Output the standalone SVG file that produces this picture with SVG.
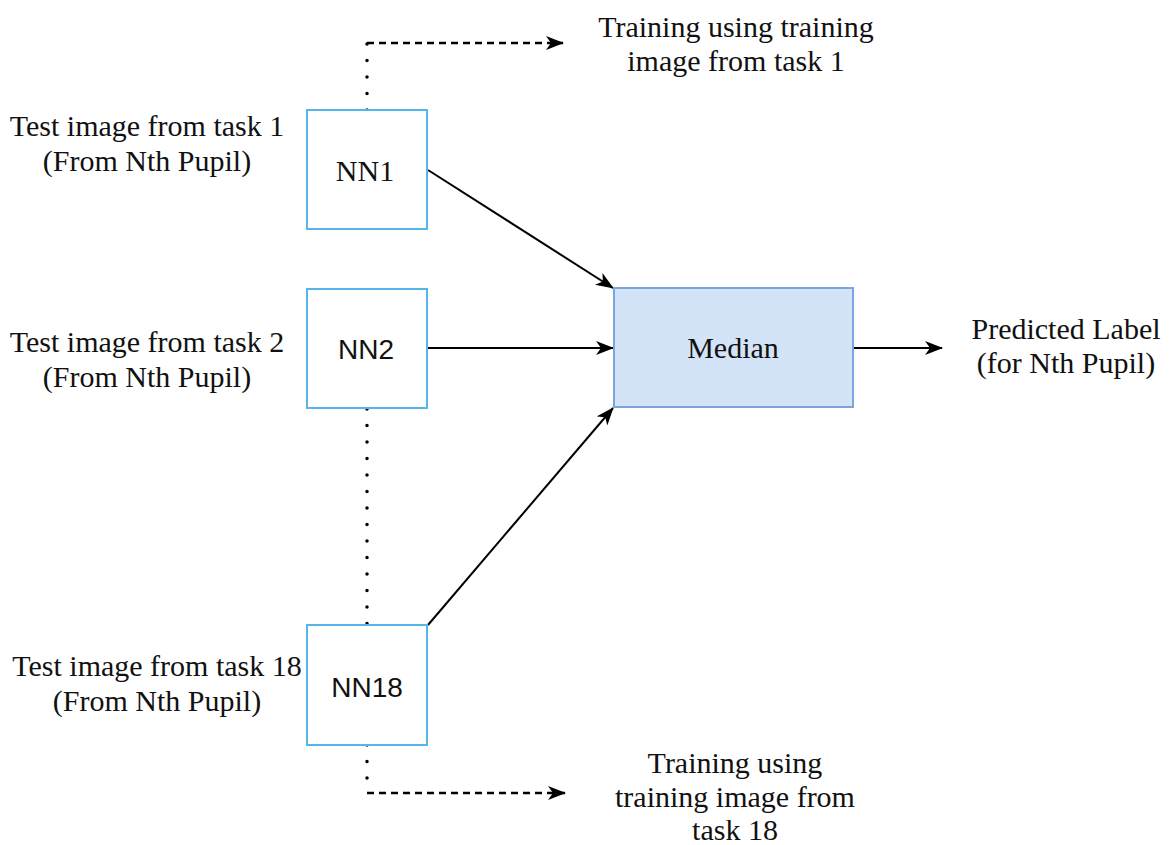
<svg xmlns="http://www.w3.org/2000/svg" width="1169" height="845" viewBox="0 0 1169 845">
<defs>
<marker id="arr" viewBox="0 0 18 14" refX="17" refY="7" markerWidth="18" markerHeight="14" orient="auto" markerUnits="userSpaceOnUse">
<path d="M0,0 L18,7 L0,14 L5,7 Z" fill="#000"/>
</marker>
<style>
.nn{fill:#fff;stroke:#56b6ec;stroke-width:2}
.med{fill:#d3e4f8;stroke:#7aa6dc;stroke-width:2}
.t{font-family:"Liberation Serif",serif;font-size:30px;fill:#111;text-anchor:middle}
.s{font-family:"Liberation Sans",sans-serif;font-size:28px;fill:#111;text-anchor:middle}
.ln{stroke:#000;stroke-width:2;fill:none}
.dot{stroke:#000;stroke-width:3.5;fill:none;stroke-dasharray:0 16.5;stroke-linecap:round}
.dash{stroke:#000;stroke-width:2.5;fill:none;stroke-dasharray:7 5}
</style>
</defs>
<rect width="1169" height="845" fill="#fff"/>
<g id="connectors">
<path class="dot" d="M367,110 V43"/>
<path class="dash" d="M367,43 H563" marker-end="url(#arr)"/>
<path class="dot" d="M367,409 V625"/>
<path class="dot" d="M367,745 V793"/>
<path class="dash" d="M367,793 H565" marker-end="url(#arr)"/>
<path class="ln" d="M428,170 L613,288" marker-end="url(#arr)"/>
<path class="ln" d="M428,348 L613,348" marker-end="url(#arr)"/>
<path class="ln" d="M428,625 L613,408" marker-end="url(#arr)"/>
<path class="ln" d="M854,348 L942,348" marker-end="url(#arr)"/>
</g>
<g id="nn1">
<rect class="nn" x="307" y="110" width="120" height="119"/>
<text class="t" x="365" y="181" font-size="29">NN1</text>
</g>
<g id="nn2">
<rect class="nn" x="307" y="289" width="120" height="119"/>
<text class="s" x="366" y="359">NN2</text>
</g>
<g id="nn18">
<rect class="nn" x="307" y="625" width="120" height="120"/>
<text class="s" x="367" y="697">NN18</text>
</g>
<g id="median">
<rect class="med" x="614" y="288" width="239" height="119"/>
<text class="t" x="733" y="358">Median</text>
</g>
<g id="label-task1">
<text class="t" x="147" y="136">Test image from task 1</text>
<text class="t" x="147" y="171">(From Nth Pupil)</text>
</g>
<g id="label-task2">
<text class="t" x="147" y="352">Test image from task 2</text>
<text class="t" x="147" y="387">(From Nth Pupil)</text>
</g>
<g id="label-task18">
<text class="t" x="157" y="676">Test image from task 18</text>
<text class="t" x="157" y="711">(From Nth Pupil)</text>
</g>
<g id="label-train1">
<text class="t" x="736" y="37">Training using training</text>
<text class="t" x="736" y="71">image from task 1</text>
</g>
<g id="label-train18">
<text class="t" x="735" y="773">Training using</text>
<text class="t" x="735" y="807">training image from</text>
<text class="t" x="735" y="840">task 18</text>
</g>
<g id="label-pred">
<text class="t" x="1066" y="339">Predicted Label</text>
<text class="t" x="1066" y="373">(for Nth Pupil)</text>
</g>
</svg>
